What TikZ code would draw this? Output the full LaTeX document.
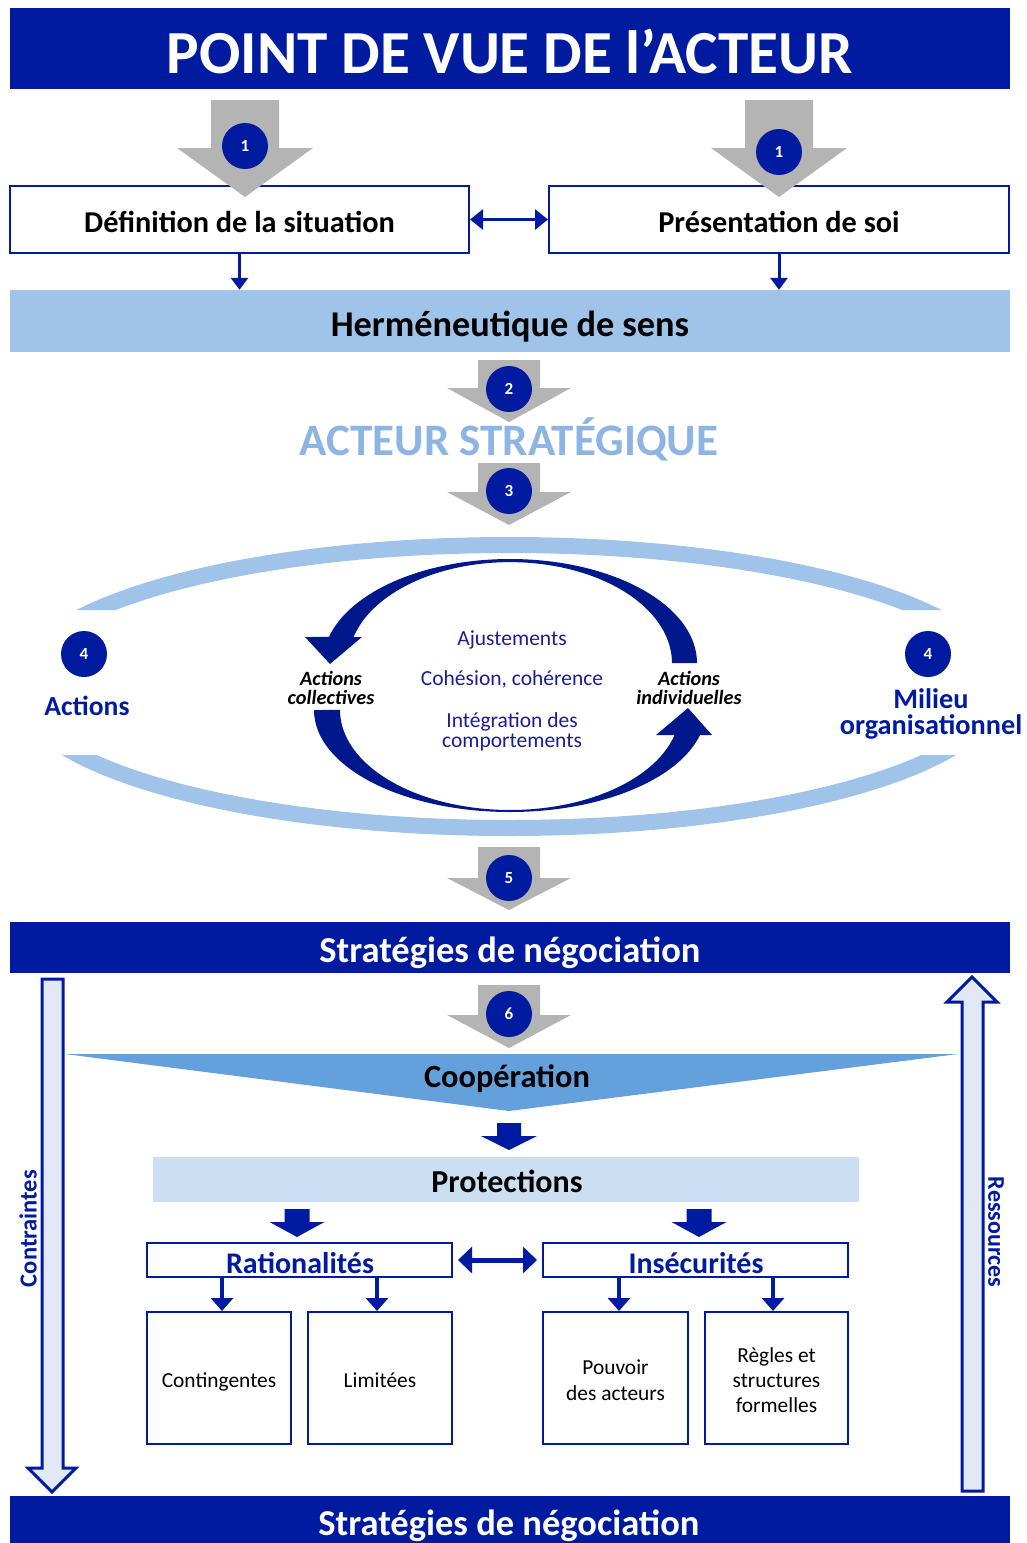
\documentclass[tikz,border=0pt]{standalone}
\usepackage{fontspec}
\setmainfont{Carlito}
\usetikzlibrary{arrows.meta,positioning}
\definecolor{dblue}{RGB}{0,26,160}
\definecolor{navy}{RGB}{28,28,150}
\definecolor{arcblue}{RGB}{0,24,140}
\definecolor{lband}{RGB}{160,195,233}
\definecolor{acteurc}{RGB}{142,180,227}
\definecolor{grayarr}{RGB}{180,180,180}
\definecolor{coopc}{RGB}{100,161,220}
\definecolor{protc}{RGB}{204,222,242}
\definecolor{hollowc}{RGB}{226,233,245}
\newcommand\fs[1]{\fontsize{#1}{#1}\selectfont}

\begin{document}
\begin{tikzpicture}[x=1pt,y=-1pt,
  bar/.style={fill=dblue,inner sep=0pt},
  bartext/.style={text=white,font=\bfseries\fs{36.5}},
  box/.style={draw=dblue,line width=2pt,fill=white,inner sep=0pt},
  num/.style={circle,fill=dblue,text=white,minimum size=46pt,inner sep=0pt,font=\bfseries\fs{17}},
  link/.style={dblue,line width=3pt,-{Triangle[length=12pt,width=17pt]}},
  dlink/.style={dblue,line width=3pt,{Triangle[length=13pt,width=20pt]}-{Triangle[length=13pt,width=20pt]}},
  note/.style={text=navy,align=center,font=\fs{21.5}},
  boxtext/.style={align=center,font=\fs{21.4}},
  italab/.style={align=center,font=\bfseries\itshape\fontsize{20.3}{19}\selectfont}]
\useasboundingbox (0,0) rectangle (1027,1543);

% top part
\node[bar,minimum width=1000pt,minimum height=81pt] (title) at (510,48.5) {};
\node[bartext,font=\bfseries\fs{61.2}] (titlet) at (510,51.5) {POINT DE VUE DE l’ACTEUR};
\node[box,minimum width=459pt,minimum height=67pt] (def) at (239.5,219.5) {};
\node[font=\bfseries\fs{30.3}] (deft) at (239.5,222) {Définition de la situation};
\node[box,minimum width=460pt,minimum height=67pt] (pres) at (779,219.5) {};
\node[font=\bfseries\fs{30.3}] (prest) at (779,222) {Présentation de soi};
\node[fill=lband,minimum width=1000pt,minimum height=62pt,inner sep=0pt] (herm) at (510,321) {};
\node[font=\bfseries\fs{36.3}] (hermt) at (510,327) {Herméneutique de sens};
\draw[dlink] (def) -- (pres);
\draw[link] (def.south) -- (def.south |- herm.north);
\draw[link] (pres.south) -- (pres.south |- herm.north);

\node[text=acteurc,font=\bfseries\fs{45}] (acteur) at (509,439) {ACTEUR STRATÉGIQUE};

% grey step arrows
\foreach \nm/\cx/\hw/\yt/\yb/\ytip/\yc/\n in {a/245/34/100/148/197/146/1, b/779/34/100/148/197/152/1,
    c/509/31/360/388/422/389/2, d/509/31/463/492/525/491/3, e/509/31/847/878/910/878/5, f/509/31/985/1015/1048/1014/6}
{
  \fill[grayarr] (\cx-\hw,\yt) -- (\cx+\hw,\yt) -- (\cx+\hw,\yb) -- (\cx+2*\hw,\yb) -- (\cx,\ytip)
     -- (\cx-2*\hw,\yb) -- (\cx-\hw,\yb) -- cycle;
  \node[num] (n\nm) at (\cx,\yc) {\n};
}

% milieu band
\begin{scope}
\clip (0,0) rectangle (1027,610) (0,755) rectangle (1027,900);
\draw[lband,line width=16pt] (509,686.5) ellipse[x radius=492,y radius=141.5];
\end{scope}

% curved arrows
\fill[arcblue] (697,663) arc[start angle=0,end angle=-165.5,x radius=187,y radius=104]
  -- (305,637) -- (330,664) -- (362,637) -- (353.5,637)
  arc[start angle=-165,end angle=0,x radius=162,y radius=101] -- cycle;
\fill[arcblue] (314,710) arc[start angle=180,end angle=14.2,x radius=196,y radius=102]
  -- (712,735) -- (688,708) -- (656,735) -- (674.6,735)
  arc[start angle=14.5,end angle=180,x radius=170,y radius=100] -- cycle;

\node[note] (ajust) at (512,640) {Ajustements};
\node[note] (cohes) at (512,679) {Cohésion, cohérence};
\node[note,font=\fontsize{21.5}{20}\selectfont] (integ) at (512,732) {Intégration des\\comportements};
\node[italab] (actcoll) at (331,688) {Actions\\collectives};
\node[italab] (actind) at (689,688) {Actions\\individuelles};

\node[num] (n4a) at (84,654) {4};
\node[num] (n4b) at (928,654) {4};
\node[text=dblue,font=\bfseries\fs{27.6}] (actions) at (87,706) {Actions};
\node[text=dblue,align=center,font=\bfseries\fontsize{28.3}{26}\selectfont] (milieu) at (931,713.5) {Milieu\\organisationnel};

% negotiation part
\node[bar,minimum width=1000pt,minimum height=51pt] (strat) at (510,947.5) {};
\node[bartext] (stratt) at (510,953) {Stratégies de négociation};

\fill[coopc] (65,1054) -- (958,1054) -- (509,1111) -- cycle;
\node[font=\bfseries\fs{32.4}] (coop) at (507,1079) {Coopération};
\fill[dblue] (497,1123) -- (521,1123) -- (521,1136) -- (537,1136) -- (509,1150) -- (481,1136) -- (497,1136) -- cycle;

\node[fill=protc,minimum width=706pt,minimum height=45pt,inner sep=0pt] (prot) at (506,1179.5) {};
\node[font=\bfseries\fs{32}] (prott) at (507,1181) {Protections};
\foreach \cx in {297,699}
  \fill[dblue] (\cx-12.5,1209) -- (\cx+12.5,1209) -- (\cx+12.5,1222) -- (\cx+27.5,1222) -- (\cx,1237)
     -- (\cx-27.5,1222) -- (\cx-12.5,1222) -- cycle;

\node[box,minimum width=305pt,minimum height=34pt] (ration) at (299.5,1260) {};
\node[text=dblue,font=\bfseries\fs{30}] (rationt) at (300,1263) {Rationalités};
\node[box,minimum width=305pt,minimum height=34pt] (insec) at (695.5,1260) {};
\node[text=dblue,font=\bfseries\fs{30}] (insect) at (696,1263) {Insécurités};
\draw[dlink,line width=5pt,{Triangle[length=14pt,width=26pt]}-{Triangle[length=14pt,width=26pt]}] (ration.east) ++(5,0) coordinate (ra) (insec.west) ++(-5,0) coordinate (ia) (ra) -- (ia);

\node[box,minimum width=144pt,minimum height=132pt] (cont) at (219,1378) {};
\node[boxtext] (contt) at (219,1382) {Contingentes};
\node[box,minimum width=144pt,minimum height=132pt] (limit) at (380,1378) {};
\node[boxtext] (limitt) at (380,1380) {Limitées};
\node[box,minimum width=145pt,minimum height=132pt] (pouv) at (615.5,1378) {};
\node[boxtext,font=\fontsize{21.4}{26}\selectfont] (pouvt) at (615.5,1380.5) {Pouvoir\\des acteurs};
\node[box,minimum width=143pt,minimum height=132pt] (regl) at (776.5,1378) {};
\node[boxtext,font=\fontsize{21.4}{25}\selectfont] (reglt) at (776.5,1380.5) {Règles et\\structures\\formelles};
\foreach \src/\dst/\cx in {ration/cont/222, ration/limit/377, insec/pouv/619, insec/regl/773}
  \draw[link,line width=4pt,-{Triangle[length=13pt,width=22pt]}] (\src.south -| \cx,0) -- (\dst.north -| \cx,0);

% side arrows
\draw[dblue,line width=3pt,fill=hollowc] (42,979) -- (63,979) -- (63,1468) -- (76,1468) -- (52,1492)
  -- (28,1468) -- (42,1468) -- cycle;
\draw[dblue,line width=3pt,fill=hollowc] (962,1491) -- (983,1491) -- (983,1002) -- (997,1002) -- (972,977)
  -- (947,1002) -- (962,1002) -- cycle;
\node[rotate=90,text=dblue,font=\bfseries\fs{24.5}] (contr) at (28,1228.5) {Contraintes};
\node[rotate=-90,text=dblue,font=\bfseries\fs{24}] (ress) at (996,1232) {Ressources};

\fill[dblue] (10,1496) rectangle (1010,1543);
\node[anchor=base,text=white,font=\bfseries\fs{36.5}] (strat2) at (509,1535) {Stratégies de négociation};
\end{tikzpicture}
\end{document}
